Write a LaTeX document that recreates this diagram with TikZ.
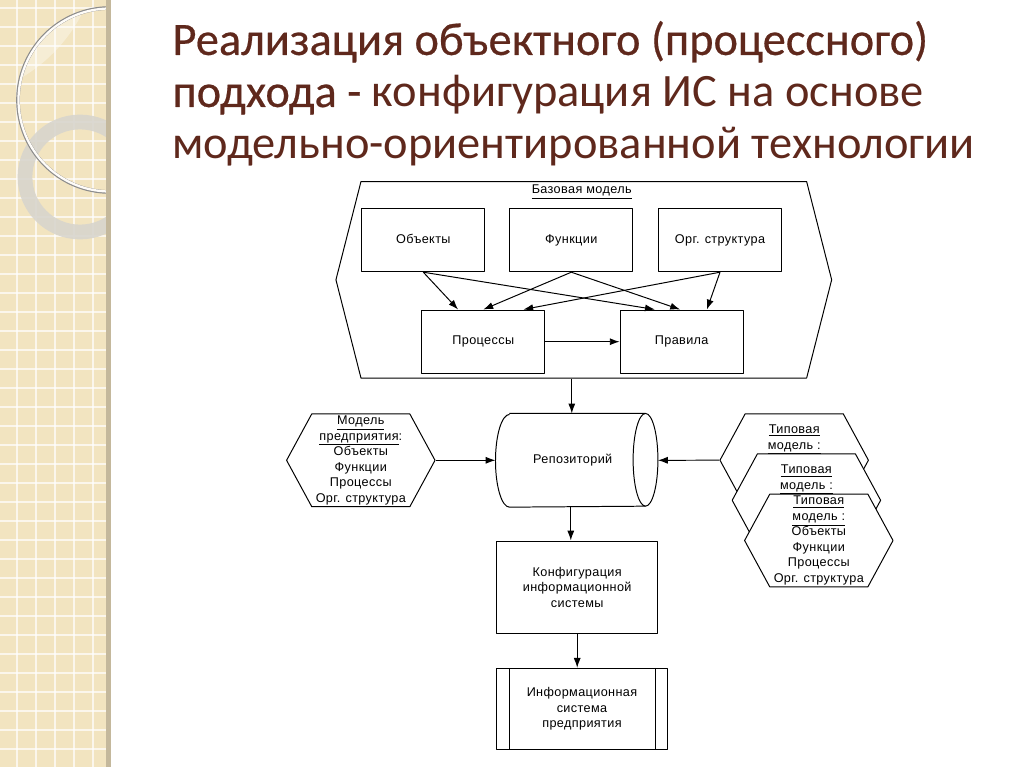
\documentclass[tikz,border=0pt]{standalone}
\usepackage{fontspec}
\setmainfont[LetterSpace=3]{Liberation Sans}
\newfontfamily\titlefont{Carlito}
\newfontfamily\titlefontb[FakeBold=0.45]{Carlito}
\usetikzlibrary{shapes.symbols,arrows.meta}

\definecolor{titlebrown}{RGB}{95,40,28}
\definecolor{stripbeige}{RGB}{242,228,192}
\definecolor{stripedge}{RGB}{196,184,156}
\definecolor{ringgrey}{RGB}{216,213,205}

\tikzset{
  diafont/.style={font=\fontsize{9}{11}\selectfont},
  box/.style={draw,rectangle,diafont,align=center,
    minimum width=3.08cm,minimum height=1.585cm},
  cell/.style={box,text height=6.6pt,text depth=2pt},
  hexa/.style={draw,fill=white,signal,signal to=west and east,
    signal pointer angle=123,inner sep=0pt,diafont,align=center,
    minimum width=3.71cm,minimum height=2.32cm},
}

\begin{document}
\begin{tikzpicture}[x=0.025cm,y=-0.025cm,>={Latex[length=7pt,width=5pt]},line width=0.7pt,line join=bevel]

 \useasboundingbox (0,0) rectangle (1024,767);
 \fill[white] (0,0) rectangle (1024,767);

 % left strip
 \begin{scope}
  \clip (0,0) rectangle (106,767);
  \fill[stripbeige] (0,0) rectangle (106,767);
  \foreach \k in {0,...,40}
    \draw[white,opacity=0.7,line width=0.9pt] (0,\k*19+8) -- (106,\k*19+8);
  \foreach \k in {0,...,5}
    \draw[white,opacity=0.7,line width=0.9pt] (\k*19+17,0) -- (\k*19+17,767);
  \begin{scope}
   \clip (110,100) circle [radius=92];
   \fill[white,opacity=0.35] (-60,-60) circle [radius=160];
  \end{scope}
  \draw[ringgrey,opacity=0.9,line width=10.5pt] (80,177) circle [radius=55];
  \draw[black!45,line width=2.6pt] (110,100) circle [radius=92];
  \draw[white!90!stripbeige,line width=1.6pt] (110,100) circle [radius=91.5];
 \end{scope}
 \fill[stripedge] (106,0) rectangle (111,767);

 % title
 \node[anchor=base west,align=left,inner sep=0pt,text=titlebrown,
   font=\titlefont\fontsize{33}{37}\selectfont] (title) at (172,159)
   {{\titlefontb Реализация объектного (процессного)}\\
    {\titlefontb подхода -} конфигурация ИС на основе\\
    модельно-ориентированной технологии};

 % base model
 \node (base) at (583.8,279.8) [draw,signal,signal to=west and east,
   signal pointer angle=151.4,minimum width=12.39cm,minimum height=4.91cm] {};
 \node (basetitle) at (581.7,191.7) [diafont] {\underline{Базовая модель}};

 \node (obj) at (423.3,240) [cell] {Объекты};
 \node (fun) at (571.3,240) [cell] {Функции};
 \node (org) at (720,240) [cell] {Орг. структура};
 \node (proc) at (483.3,341.7) [cell] {Процессы};
 \node (rule) at (681.7,341.7) [cell] {Правила};

  \draw [->] (obj.south) -- ([xshift=-0.63cm]proc.north);
  \draw [->] (obj.south) -- ([xshift=-0.67cm]rule.north);
  \draw [->] (fun.south) -- (proc.north);
  \draw [->] (fun.south) -- ([xshift=-0.04cm]rule.north);
  \draw [->] (org.south) -- ([xshift=1cm]proc.north);
  \draw [->] (org.south) -- ([xshift=0.63cm]rule.north);
  \draw [->] (proc) edge (rule);

 % repository (drum) and models
 \node (repo) at (577.5,460.3) [diafont,minimum width=3.375cm,minimum height=2.3175cm,
   text width=3.375cm,align=center,xshift=-0.12cm,inner sep=0pt] {Репозиторий};
  \draw ([xshift=0.12cm]repo.north west) -- ([xshift=0.12cm]repo.north east)
    arc[start angle=90,end angle=-90,x radius=0.31cm,y radius=1.15875cm]
    -- ([xshift=0.12cm]repo.south west)
    arc[start angle=270,end angle=90,x radius=0.35cm,y radius=1.15875cm];
  \draw ([xshift=0.12cm]repo.north east)
    arc[start angle=90,end angle=270,x radius=0.31cm,y radius=1.15875cm];

 \node (ent) at (360.8,460.3) [hexa]
   {\underline{Модель}\\\underline{предприятия}:\\Объекты\\Функции\\Процессы\\Орг. структура};
 \node (typ1) at (794.2,460.2) [hexa]
   {\underline{Типовая}\\\underline{модель :}\\~\\~\\~};
 \node (typ2) at (806.4,500.3) [hexa]
   {\underline{Типовая}\\\underline{модель :}\\~\\~\\~};
 \node (typ3) at (818.8,540.5) [hexa]
   {\underline{Типовая}\\\underline{модель :}\\Объекты\\Функции\\Процессы\\Орг. структура};

 \node (conf) at (577.2,587.2) [box,minimum width=4.025cm,minimum height=2.31cm]
   {Конфигурация\\информационной\\системы};
 \node (is) at (582,708.8) [box,minimum width=4.265cm,minimum height=2.025cm]
   {Информационная\\система\\предприятия};
  \draw ([xshift=0.33cm]is.north west) -- ([xshift=0.33cm]is.south west);
  \draw ([xshift=-0.31cm]is.north east) -- ([xshift=-0.31cm]is.south east);

  \draw [->] ([xshift=-0.3cm]base.south) -- ([xshift=-0.3cm]base.south |- repo.north);
  \draw [->] (ent.east) -- ([xshift=-0.23cm]repo.west);
  \draw [->] (typ1.west) -- ([xshift=0.43cm]repo.east);
  \draw [->] ([xshift=-0.16cm]conf.north |- repo.south) -- ([xshift=-0.16cm]conf.north);
  \draw [->] (conf.south) -- (conf.south |- is.north);

\end{tikzpicture}
\end{document}
